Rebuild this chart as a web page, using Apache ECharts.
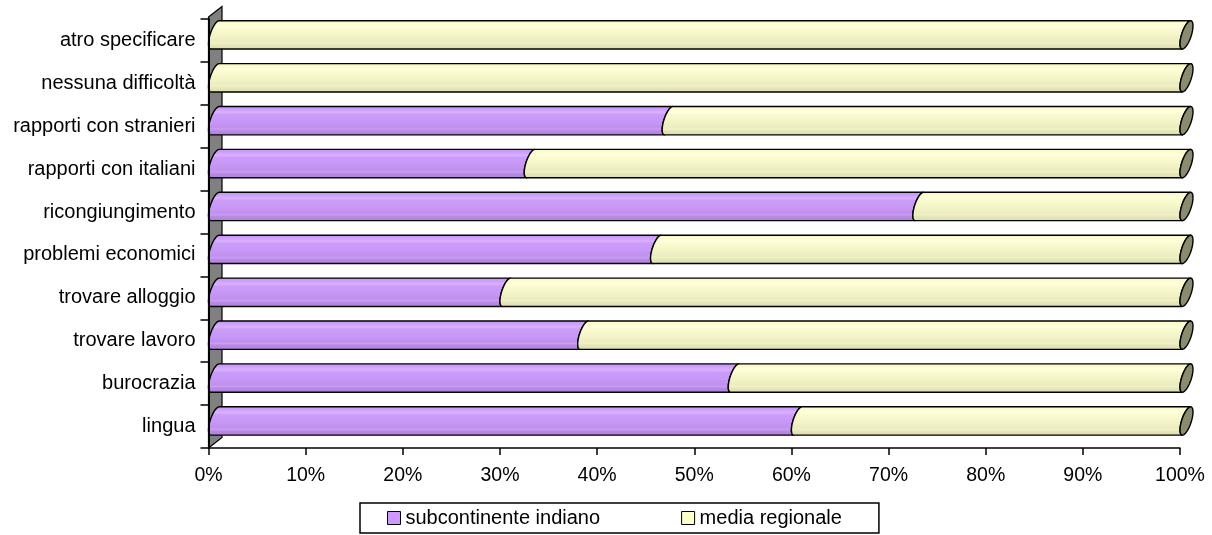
<!DOCTYPE html>
<html>
<head>
<meta charset="utf-8">
<script src="https://cdn.jsdelivr.net/npm/echarts@6/dist/echarts.min.js"></script>
<style>
  html, body { margin: 0; padding: 0; background: #ffffff; }
  #chart { width: 1212px; height: 535px; }
</style>
</head>
<body>
<div id="chart"></div>
<script>
// Difficoltà incontrate: quota percentuale per gruppo (barre impilate al 100%)
const categories = [
  'lingua', 'burocrazia', 'trovare lavoro', 'trovare alloggio', 'problemi economici',
  'ricongiungimento', 'rapporti con italiani', 'rapporti con stranieri',
  'nessuna difficoltà', 'atro specificare'
];
const subcontinenteIndiano = [60, 53.5, 38, 30, 45.5, 72.5, 32.5, 46.7, 0, 0];
const mediaRegionale       = [40, 46.5, 62, 70, 54.5, 27.5, 67.5, 53.3, 100, 100];
const seriesNames = ['subcontinente indiano', 'media regionale'];
const percentTicks = [0, 10, 20, 30, 40, 50, 60, 70, 80, 90, 100];

const FONT = 'Liberation Sans, Arial, Helvetica, sans-serif';

// shading of the cylinder bodies (top -> bottom)
const purpleStops = [
  { offset: 0.00, color: '#c293f2' },
  { offset: 0.12, color: '#cf9ffe' },
  { offset: 0.22, color: '#d9b2ff' },
  { offset: 0.30, color: '#cc9cfb' },
  { offset: 0.55, color: '#c697f5' },
  { offset: 0.72, color: '#bf90ee' },
  { offset: 0.78, color: '#c99ef2' },
  { offset: 0.84, color: '#b98ae5' },
  { offset: 1.00, color: '#ad80d8' }
];
const yellowStops = [
  { offset: 0.00, color: '#f4f4c6' },
  { offset: 0.12, color: '#fdfdd0' },
  { offset: 0.22, color: '#ffffdd' },
  { offset: 0.30, color: '#fbfbcf' },
  { offset: 0.55, color: '#f3f3c8' },
  { offset: 0.72, color: '#ececc0' },
  { offset: 0.78, color: '#f1f1c8' },
  { offset: 0.84, color: '#e6e6b9' },
  { offset: 1.00, color: '#dcdcae' }
];
const seriesFills = [purpleStops, yellowStops];
const seriesColors = ['#CC99FF', '#FFFFCC'];

// build stacked segments [categoryIndex, start, end]
const stacks = [subcontinenteIndiano, mediaRegionale];
const segments = stacks.map(() => []);
categories.forEach((c, i) => {
  let acc = 0;
  stacks.forEach((vals, s) => {
    segments[s].push([i, acc, acc + vals[i]]);
    acc += vals[i];
  });
});

const CAP_HALF_W = 6.5;   // half horizontal extent of the end ellipse
const CAP_TILT = 9;       // vertical shift between front and back of the ellipse

function makeCylinderRenderer(seriesIndex) {
  return function (params, api) {
    const cat = api.value(0);
    const start = api.value(1);
    const end = api.value(2);
    if (end - start <= 0) return null;
    const pA = api.coord([start, cat]);
    const pB = api.coord([end, cat]);
    const band = api.size([0, 1])[1];
    const H = band * 0.33;
    const cy = pA[1] - band * 0.13;
    const ex = CAP_HALF_W;
    const ey = Math.min(CAP_TILT, H * 0.75);
    const r = Math.sqrt(H * H - ey * ey);
    const tTop = Math.atan2(-r, ey);
    const pt = (x0, t) => [x0 + ex + ex * Math.cos(t), cy - ey * Math.cos(t) + r * Math.sin(t)];
    const N = 18;
    const pts = [];
    for (let k = 0; k <= N; k++) pts.push(pt(pB[0], tTop - Math.PI * k / N));
    for (let k = N; k >= 0; k--) pts.push(pt(pA[0], tTop - Math.PI * k / N));
    const children = [{
      type: 'polygon',
      shape: { points: pts },
      style: {
        fill: { type: 'linear', x: 0, y: 0, x2: 0, y2: 1, colorStops: seriesFills[seriesIndex] },
        stroke: '#000000',
        lineWidth: 1.4,
        lineJoin: 'round'
      }
    }];
    if (end >= 100) {
      const cap = [];
      const M = 40;
      for (let k = 0; k < M; k++) cap.push(pt(pB[0], 2 * Math.PI * k / M));
      children.push({
        type: 'polygon',
        shape: { points: cap },
        style: { fill: '#8b8b6f', stroke: '#000000', lineWidth: 1.4 }
      });
    }
    return { type: 'group', children: children };
  };
}

// grey back wall behind the category axis
function renderWall(params, api) {
  const cs = params.coordSys;
  const dx = 13.5, dy = 10.5;
  return {
    type: 'polygon',
    shape: {
      points: [
        [cs.x, cs.y - 2],
        [cs.x + dx, cs.y - 2 - dy],
        [cs.x + dx, cs.y + cs.height - dy],
        [cs.x, cs.y + cs.height]
      ]
    },
    style: { fill: '#808080', stroke: '#000000', lineWidth: 1.2 }
  };
}

const chart = echarts.init(document.getElementById('chart'), null, { renderer: 'canvas' });

chart.setOption({
  animation: false,
  backgroundColor: '#ffffff',
  textStyle: { fontFamily: FONT },
  grid: { left: 208.5, right: 32, top: 19, bottom: 87 },
  xAxis: {
    type: 'value',
    min: percentTicks[0],
    max: percentTicks[percentTicks.length - 1],
    interval: percentTicks[1] - percentTicks[0],
    z: 10,
    axisLine: { show: true, lineStyle: { color: '#000000', width: 1.5 } },
    axisTick: { show: true, length: 7, lineStyle: { color: '#000000', width: 1.5 } },
    axisLabel: { formatter: '{value}%', fontSize: 19.5, color: '#000000', margin: 18, fontFamily: FONT },
    splitLine: { show: false }
  },
  yAxis: {
    type: 'category',
    data: categories,
    z: 10,
    axisLine: { show: true, lineStyle: { color: '#000000', width: 2 } },
    axisTick: { show: true, length: 8, lineStyle: { color: '#000000', width: 1.5 } },
    axisLabel: { fontSize: 20, color: '#000000', margin: 13, fontFamily: FONT },
    splitLine: { show: false }
  },
  legend: {
    left: 360,
    top: 503,
    selectedMode: false,
    icon: 'rect',
    itemWidth: 13,
    itemHeight: 13,
    itemGap: 81,
    borderColor: '#000000',
    borderWidth: 1.5,
    padding: [5, 37, 5, 27],
    textStyle: { fontSize: 20, color: '#000000', fontFamily: FONT },
    data: seriesNames.map((n, i) => ({
      name: n,
      itemStyle: { color: seriesColors[i], borderColor: '#000000', borderWidth: 1 }
    }))
  },
  series: [
    {
      name: 'wall',
      type: 'custom',
      renderItem: renderWall,
      data: [[0, 0]],
      encode: { x: 0, y: 1 },
      silent: true,
      z: 1
    },
    ...seriesNames.map((name, s) => ({
      name: name,
      type: 'custom',
      color: seriesColors[s],
      renderItem: makeCylinderRenderer(s),
      encode: { x: [1, 2], y: 0 },
      data: segments[s],
      z: 3 + s
    }))
  ]
});
</script>
</body>
</html>
